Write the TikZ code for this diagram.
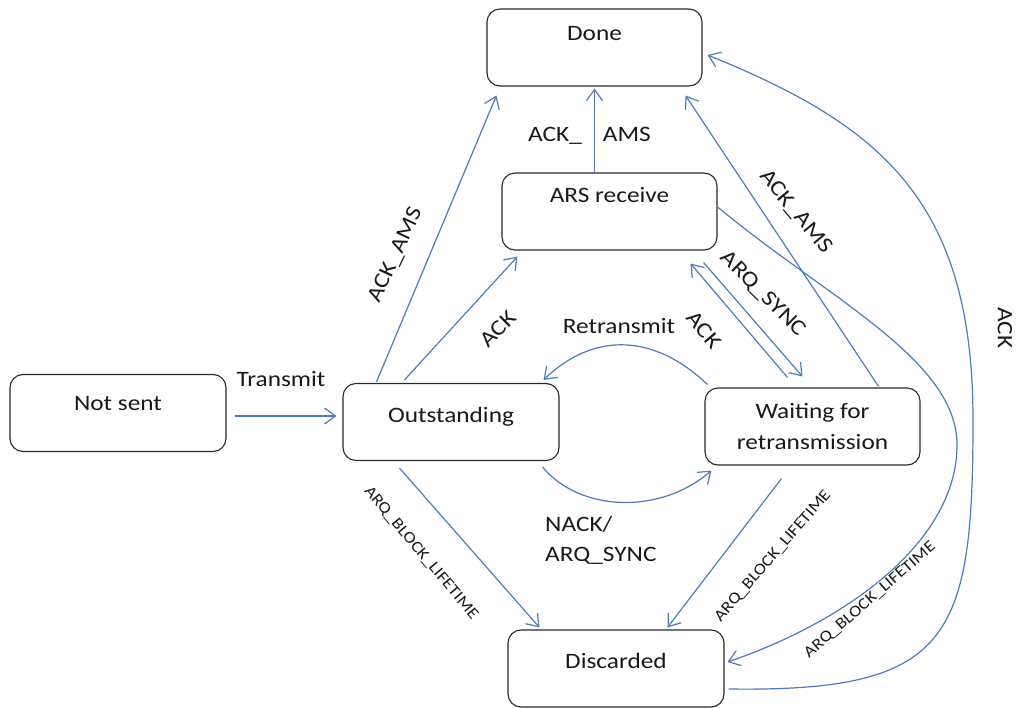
\documentclass[tikz,border=0pt]{standalone}
\usepackage{fontspec}
\setmainfont{Carlito}[FakeStretch=1.15]
\usetikzlibrary{arrows.meta,calc}
\definecolor{edgeblue}{RGB}{79,124,182}
\definecolor{boxline}{RGB}{40,40,40}
\definecolor{txt}{RGB}{25,25,25}
\begin{document}
\begin{tikzpicture}[x=1pt,y=-1pt,
  state/.style={draw=boxline, line width=1.1pt, rounded corners=13pt, minimum width=215pt, minimum height=77pt, inner sep=0pt, text=txt, font=\fontsize{22}{31}\selectfont},
  conn/.style={draw=edgeblue, line width=1.2pt, -{Straight Barb[length=11pt,width=16pt,line width=1.2pt]}},
  lbl/.style={inner sep=0pt, text=txt, font=\fontsize{22}{30}\selectfont},
  slbl/.style={inner sep=0pt, text=txt, font=\fontsize{16}{18}\selectfont}]

\useasboundingbox (0,0) rectangle (1016,708);

% states
\node[state, text height=32pt, text depth=45pt] (d) at (594.5,47.5) {Done};
\node[state, text height=30pt, text depth=47pt] (a) at (609.5,211.5) {ARS receive};
\node[state, minimum width=216pt, text height=36pt, text depth=41pt] (ns) at (118,413) {Not sent};
\node[state, minimum width=216pt, text height=39pt, text depth=38pt] (o) at (451,422) {Outstanding};
\node[state, align=center] (w) at (812.5,426.5) {Waiting for\\retransmission};
\node[state, minimum width=216pt, text height=38pt, text depth=39pt] (x) at (616,668.5) {Discarded};

% connectors
\draw[conn] ([xshift=8pt,yshift=-3pt]ns.east) -- ([xshift=-6pt,yshift=6pt]o.west);
\draw[conn] ([xshift=34pt,yshift=1pt]o.north west) -- ([xshift=10pt,yshift=-9pt]d.south west);
\draw[conn] ([xshift=62pt,yshift=3pt]o.north west) -- ([xshift=16pt,yshift=-6pt]a.south west);
\draw[conn] (a.north -| d.south) -- ([yshift=-2pt]d.south);
\draw[conn] ([xshift=-42pt,yshift=1pt]w.north east) -- ([xshift=-17pt,yshift=-9pt]d.south east);
\draw[conn] ([xshift=83pt,yshift=10pt]w.north west) -- ([xshift=-27pt,yshift=-13pt]a.south east);
\draw[conn] ([xshift=-14pt,yshift=-12pt]a.south east) -- ([xshift=98pt,yshift=11pt]w.north west);
\draw[conn] ([xshift=3pt,yshift=3pt]w.north west) .. controls (650,330) and (590,335) .. ([xshift=-16pt,yshift=3pt]o.north east);
\draw[conn] ([xshift=-17pt,yshift=-6pt]o.south east) .. controls (580,512) and (660,515) .. ([xshift=7pt,yshift=-5pt]w.south west);
\draw[conn] ([xshift=57pt,yshift=-7pt]o.south west) -- ([xshift=32pt,yshift=2pt]x.north west);
\draw[conn] ([xshift=77pt,yshift=-13pt]w.south west) -- ([xshift=160pt,yshift=2pt]x.north west);
\draw[conn] ([yshift=4.5pt]a.east) .. controls (830,300) and (957,360) .. (957,445) .. controls (957,540) and (850,620) .. ([xshift=3pt,yshift=6.5pt]x.east);
\draw[conn] ([xshift=4pt,yshift=-20.5pt]x.east) .. controls (950,692) and (973,640) .. (973,420) .. controls (973,200) and (880,125) .. ([xshift=5pt,yshift=-7.5pt]d.east);

% labels
\node[lbl, anchor=base] (lTransmit) at (281,386) {Transmit};
\node[lbl, anchor=base] (lAckAmsMid) at (589.5,142) {ACK\_\hspace{21pt}AMS};
\node[lbl, anchor=base] (lRetransmit) at (619,333) {Retransmit};
\node[lbl, anchor=west, align=left] (lNack) at (545,540.5) {NACK/\\ARQ\_SYNC};
\node[lbl, rotate=65] (lAckAmsL) at (396,255) {ACK\_AMS};
\node[lbl, rotate=45] (lAckL) at (498,329) {ACK};
\node[lbl, rotate=-50] (lAckAmsR) at (796,212) {ACK\_AMS};
\node[lbl, rotate=-45] (lArqSync) at (763,294) {ARQ\_SYNC};
\node[lbl, rotate=-50] (lAckR) at (704,330) {ACK};
\node[lbl, rotate=-90] (lAckFar) at (1005,328) {ACK};
\node[slbl, rotate=-50] (lBlockL) at (421,553) {ARQ\_BLOCK\_LIFETIME};
\node[slbl, rotate=49] (lBlockM) at (773,556) {ARQ\_BLOCK\_LIFETIME};
\node[slbl, rotate=41] (lBlockR) at (870,600) {ARQ\_BLOCK\_LIFETIME};
\end{tikzpicture}
\end{document}
